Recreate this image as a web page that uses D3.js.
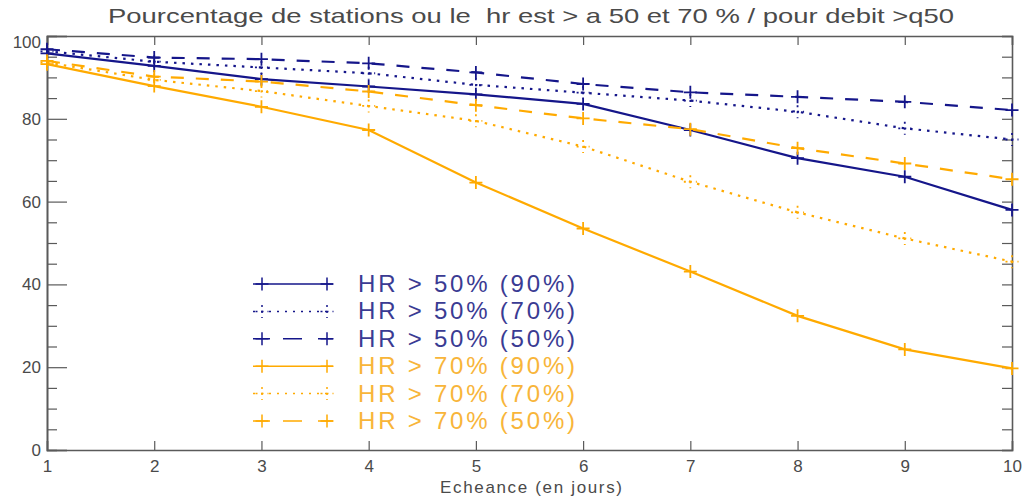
<!DOCTYPE html>
<html><head><meta charset="utf-8">
<script src="https://cdn.jsdelivr.net/npm/d3@7"></script>
<style>html,body{margin:0;padding:0;background:#fff}svg{display:block}</style>
</head><body><svg id="c" width="1026" height="498"></svg>
<script>
const days = [1, 2, 3, 4, 5, 6, 7, 8, 9, 10];
const hr50_90 = [95.8, 92.8, 89.6, 87.8, 85.9, 83.6, 77.3, 70.5, 66.0, 58.0];
const hr50_70 = [96.3, 93.8, 92.4, 91.0, 88.2, 86.3, 84.4, 81.7, 77.7, 75.0];
const hr50_50 = [96.8, 94.8, 94.4, 93.4, 91.2, 88.4, 86.4, 85.3, 84.1, 82.1];
const hr70_90 = [93.2, 87.9, 82.9, 77.3, 64.6, 53.5, 43.1, 32.4, 24.3, 19.7];
const hr70_70 = [93.6, 89.4, 86.7, 83.1, 79.5, 73.3, 64.8, 57.4, 51.1, 45.5];
const hr70_50 = [94.0, 90.2, 89.0, 86.6, 83.3, 80.1, 77.5, 72.9, 69.2, 65.4];
const seriesNames = ["HR > 50% (90%)", "HR > 50% (70%)", "HR > 50% (50%)",
                     "HR > 70% (90%)", "HR > 70% (70%)", "HR > 70% (50%)"];
const xTicks = [1, 2, 3, 4, 5, 6, 7, 8, 9, 10];
const yTicks = [0, 20, 40, 60, 80, 100];
const yMinor = [5, 10, 15, 25, 30, 35, 45, 50, 55, 65, 70, 75, 85, 90, 95];
const title = "Pourcentage de stations ou le  hr est > a 50 et 70 % / pour debit >q50";
const xTitle = "Echeance (en jours)";

const BLUE = "#15168a", ORANGE = "#ffaa00";
const BLUE_T = "#3a3b93", ORANGE_T = "#f8b53a";
const styles = [
  {c: BLUE, t: BLUE_T, kind: "solid"},
  {c: BLUE, t: BLUE_T, kind: "dot"},
  {c: BLUE, t: BLUE_T, kind: "dash"},
  {c: ORANGE, t: ORANGE_T, kind: "solid"},
  {c: ORANGE, t: ORANGE_T, kind: "dot"},
  {c: ORANGE, t: ORANGE_T, kind: "dash"}
];
const lineDash = {solid: null, dot: "2.5,6", dash: "13,12"};
const markDash = {solid: null, dot: "2,4", dash: null};
const legDash = {solid: null, dot: "2,6", dash: "17,13,19,16,15"};
const data = [hr50_90, hr50_70, hr50_50, hr70_90, hr70_70, hr70_50];

const L = 47, R = 1012, T = 36, B = 450;
const svg = d3.select("#c");
const x = d3.scaleLinear().domain([1, 10]).range([L, R]);
const y = d3.scaleLinear().domain([0, 100]).range([B, T]);
const FONT = "'Liberation Sans', Arial, sans-serif";
const AX = "#5a5a5a", TXT = "#4a4a4a";

// title
svg.append("text").attr("x", 531).attr("y", 23).attr("text-anchor", "middle")
  .attr("font-family", FONT).attr("font-size", 21).attr("fill", TXT)
  .attr("textLength", 846).attr("lengthAdjust", "spacingAndGlyphs")
  .style("white-space", "pre").text(title);

// axes
const g = svg.append("g");
g.append("g").attr("transform", `translate(0,${B})`)
  .call(d3.axisBottom(x).tickValues(xTicks).tickSize(-9).tickPadding(10).tickFormat(d3.format("d")));
g.append("g").attr("transform", `translate(0,${T})`)
  .call(d3.axisTop(x).tickValues(xTicks).tickSize(-9).tickFormat(""));
g.append("g").attr("transform", `translate(${L},0)`)
  .call(d3.axisLeft(y).tickValues(yTicks).tickSize(-20).tickPadding(6).tickFormat(d3.format("d")));
g.append("g").attr("transform", `translate(${L},0)`)
  .call(d3.axisLeft(y).tickValues(yMinor).tickSize(-10).tickFormat(""));
g.append("g").attr("transform", `translate(${R},0)`)
  .call(d3.axisRight(y).tickValues(yTicks.concat(yMinor)).tickSize(-10).tickFormat(""));
g.selectAll(".domain").attr("stroke", AX).attr("stroke-width", 1.6);
g.selectAll(".tick line").attr("stroke", AX).attr("stroke-width", 1.2);
g.selectAll(".tick text").attr("font-family", FONT).attr("font-size", 17).attr("fill", TXT);
g.selectAll(".tick text").filter(d => d === 100).attr("dy", "0.65em");

svg.append("text").attr("x", 531).attr("y", 493).attr("text-anchor", "middle")
  .attr("font-family", FONT).attr("font-size", 17).attr("fill", TXT)
  .attr("textLength", 182).attr("lengthAdjust", "spacing").text(xTitle);

// lines
const line = d3.line().x((d, i) => x(days[i])).y(d => y(d));
const M = 6.5;
data.forEach((vals, k) => {
  const s = styles[k];
  const gs = svg.append("g");
  gs.append("path").attr("d", line(vals)).attr("fill", "none")
    .attr("stroke", s.c).attr("stroke-width", 2.2)
    .attr("stroke-dasharray", lineDash[s.kind]);
  gs.selectAll("path.m").data(vals).join("path").attr("class", "m")
    .attr("d", (d, i) => `M${x(days[i]) - M},${y(d)}h${2 * M}M${x(days[i])},${y(d) - M}v${2 * M}`)
    .attr("stroke", s.c).attr("stroke-width", 1.8).attr("fill", "none")
    .attr("stroke-dasharray", markDash[s.kind]);
});

// legend
const leg = svg.append("g");
const ly = d3.scaleLinear().domain([0, 5]).range([284, 421]);
seriesNames.forEach((name, k) => {
  const s = styles[k], yy = ly(k);
  leg.append("line").attr("x1", 253).attr("x2", 333).attr("y1", yy).attr("y2", yy)
    .attr("stroke", s.c).attr("stroke-width", 1.5).attr("stroke-dasharray", legDash[s.kind]);
  [262, 327].forEach(px => {
    leg.append("path").attr("d", `M${px - M},${yy}h${2 * M}M${px},${yy - M}v${2 * M}`)
      .attr("stroke", s.c).attr("stroke-width", 1.5).attr("fill", "none")
      .attr("stroke-dasharray", markDash[s.kind]);
  });
  leg.append("text").attr("x", 358).attr("y", yy + 8).attr("font-family", FONT)
    .attr("font-size", 24).attr("fill", s.t).attr("textLength", 217).attr("lengthAdjust", "spacing")
    .text(name);
});
</script></body></html>
